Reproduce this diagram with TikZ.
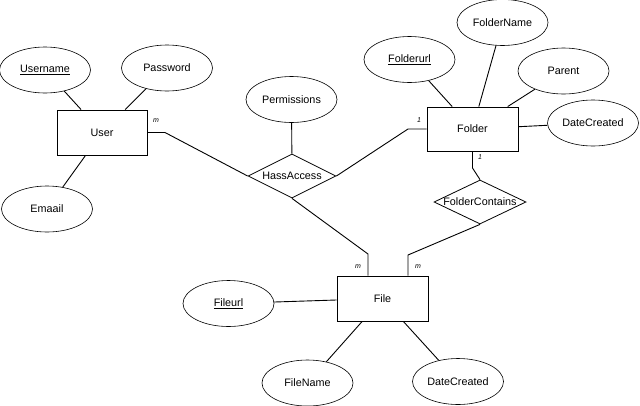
\documentclass[tikz,border=0pt]{standalone}
\usepackage{fontspec}
\setmainfont{Liberation Sans}
\usetikzlibrary{shapes.geometric}
\begin{document}
\begin{tikzpicture}[x=1pt,y=-1pt,
  every node/.style={font=\fontsize{10.8}{13}\selectfont},
  entity/.style={draw, line width=0.9pt, rectangle, minimum width=90pt, minimum height=45pt, inner sep=0pt},
  attr/.style={draw, line width=0.6pt, ellipse, minimum width=91pt, minimum height=46pt, inner sep=0pt},
  rel/.style={draw, line width=0.8pt, diamond, inner sep=0pt},
  link/.style={line width=0.9pt},
  card/.style={font=\itshape\fontsize{7}{8}\selectfont, inner sep=0pt}]
\useasboundingbox (0,0) rectangle (640,405);
% entities
\node[entity] (User) at (102,132.5) {User};
\node[entity, minimum width=91pt, minimum height=44pt] (Folder) at (472.5,129) {Folder};
\node[entity, minimum width=91pt] (File) at (382.5,298.5) {File};
% attributes
\node[attr] (Username) at (45,70) {\underline{Username}};
\node[attr] (Password) at (167,68) {Password};
\node[attr] (Emaail) at (47,209) {Emaail};
\node[attr] (Permissions) at (291.5,99.5) {Permissions};
\node[attr] (Folderurl) at (409.5,59.5) {\underline{Folderurl}};
\node[attr] (FolderName) at (502.5,22.5) {FolderName};
\node[attr] (Parent) at (563.5,71) {Parent};
\node[attr] (DateCreatedA) at (593,123) {DateCreated};
\node[attr] (Fileurl) at (228.5,303.5) {\underline{Fileurl}};
\node[attr] (FileName) at (307.5,383) {FileName};
\node[attr] (DateCreatedB) at (458,381.5) {DateCreated};
% relationships
\node[rel, minimum width=88pt, minimum height=44pt, label=center:HassAccess] (HassAccess) at (292,176) {};
\node[rel, minimum width=92pt, minimum height=44pt, label=center:FolderContains] (FolderContains) at (480,202) {};
% attribute links
\draw[link] (Username) -- (User);
\draw[link] (Password) -- (User);
\draw[link] (Emaail) -- (User);
\draw[link] (Permissions) -- (HassAccess);
\draw[link] (Folderurl) -- (Folder);
\draw[link] (FolderName) -- (Folder);
\draw[link] (Parent) -- (Folder);
\draw[link] (DateCreatedA) -- (Folder);
\draw[link] (Fileurl) -- (File);
\draw[link] (FileName) -- (File);
\draw[link] (DateCreatedB) -- (File);
% relationship links
\coordinate (ua) at (165,132.5);
\coordinate (fa) at (408,129);
\coordinate (fc) at (472.5,168);
\coordinate (hb) at (368,254);
\coordinate (cb) at (408,255);
\draw[link] (User.east) -- (ua) -- (HassAccess.west);
\draw[link] (Folder.west) -- (fa) -- (HassAccess.east);
\draw[link] (Folder.south) -- (fc) -- (FolderContains.north);
\draw[link] (HassAccess.south) -- (hb) -- (hb |- File.north);
\draw[link] (FolderContains.south) -- (cb) -- (cb |- File.north);
% cardinalities
\node[card] (c1) at (156,121) {m};
\node[card] (c2) at (419,120) {1};
\node[card] (c3) at (480,157) {1};
\node[card] (c4) at (358,267) {m};
\node[card] (c5) at (418,267) {m};
\end{tikzpicture}
\end{document}
